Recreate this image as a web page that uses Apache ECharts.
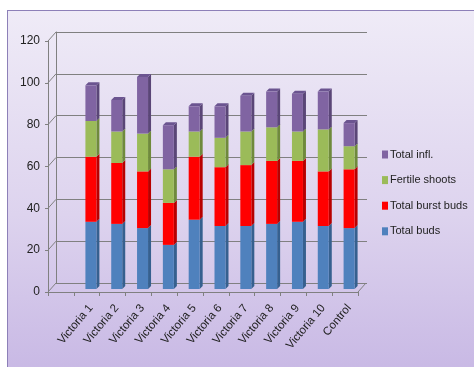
<!DOCTYPE html>
<html lang="en">
<head>
    <meta charset="UTF-8">
    <title>Bud and shoot counts by treatment</title>
    <script src="https://cdn.jsdelivr.net/npm/echarts@6.0.0/dist/echarts.min.js"></script>
    <style>
        body {
            margin: 0;
            background: #ffffff;
        }
        .chart-frame {
            position: absolute;
            left: 7px;
            top: 10px;
            width: 480px;
            height: 370px;
            border-left: 1px solid #8d80b8;
            border-top: 1px solid #8d80b8;
            background: linear-gradient(180deg, #efebf7 0%, #ddd3ee 55%, #c7b7e4 100%);
        }
        #chart {
            position: absolute;
            left: 0;
            top: 0;
            width: 474px;
            height: 367px;
        }
    </style>
</head>
<body>
    <div class="chart-frame"></div>
    <div id="chart"></div>

    <script>
        // 数据
        const categories = ['Victoria 1', 'Victoria 2', 'Victoria 3', 'Victoria 4', 'Victoria 5',
            'Victoria 6', 'Victoria 7', 'Victoria 8', 'Victoria 9', 'Victoria 10', 'Control'];
        const totalBuds      = [32, 31, 29, 21, 33, 30, 30, 31, 32, 30, 29];
        const totalBurstBuds = [31, 29, 27, 20, 30, 28, 29, 30, 29, 26, 28];
        const fertileShoots  = [17, 15, 18, 16, 12, 14, 16, 16, 14, 20, 11];
        const totalInfl      = [17, 15, 27, 21, 12, 15, 17, 17, 18, 18, 11];
        const yTicks = [0, 20, 40, 60, 80, 100, 120];

        const seriesDefs = [
            { name: 'Total buds', data: totalBuds, color: '#4f81bd', side: '#36608f' },
            { name: 'Total burst buds', data: totalBurstBuds, color: '#ff0000', side: '#b80000' },
            { name: 'Fertile shoots', data: fertileShoots, color: '#9bbb59', side: '#6f8a3c' },
            { name: 'Total infl.', data: totalInfl, color: '#8064a2', side: '#5a4677', top: '#6b5490' }
        ];

        const FONT = '"Liberation Sans", Arial, sans-serif';
        const GRID_COLOR = '#808080';
        const DEPTH = 3;       // 柱子侧面深度
        const BAR_W = 11;

        const chart = echarts.init(document.getElementById('chart'));

        // 柱子侧面和顶面（伪3D）
        function renderSides(params, api) {
            const i = api.value(0);
            const cx = api.coord([i, 0])[0];
            const xl = cx - BAR_W / 2;
            const xr = cx + BAR_W / 2;
            const children = [];
            let base = 0;
            seriesDefs.forEach((s, k) => {
                const v = api.value(k + 1);
                const y0 = api.coord([i, base])[1];
                const y1 = api.coord([i, base + v])[1];
                children.push({
                    type: 'polygon',
                    shape: { points: [[xr, y1], [xr + DEPTH, y1 - DEPTH], [xr + DEPTH, y0 - DEPTH], [xr, y0]] },
                    style: { fill: s.side }
                });
                if (k === seriesDefs.length - 1) {
                    children.push({
                        type: 'polygon',
                        shape: { points: [[xl, y1], [xl + DEPTH, y1 - DEPTH], [xr + DEPTH, y1 - DEPTH], [xr, y1]] },
                        style: { fill: s.top }
                    });
                }
                base += v;
            });
            return { type: 'group', children: children };
        }

        // 墙角斜线
        function renderEdges(params, api) {
            const p = api.coord([api.value(0), api.value(1)]);
            return {
                type: 'line',
                shape: { x1: p[0], y1: p[1], x2: p[0] + 8, y2: p[1] - 9 },
                style: { stroke: GRID_COLOR, lineWidth: 1 }
            };
        }

        const edgeData = yTicks.map(v => [0, v]).concat([[12, 0]]);
        const sideData = categories.map((c, i) => [i].concat(seriesDefs.map(s => s.data[i])));

        const option = {
            animation: false,
            textStyle: { fontFamily: FONT },
            grid: [
                { left: 48, right: 116, top: 41, bottom: 75 },   // 前面
                { left: 56, right: 107, top: 32, bottom: 84 },   // 后墙
                { left: 78, right: 112, top: 37, bottom: 78 }    // 柱子
            ],
            xAxis: [
                {
                    gridIndex: 0, type: 'value', min: 0, max: 12, interval: 1,
                    axisLine: { lineStyle: { color: GRID_COLOR } },
                    axisTick: { length: 4, lineStyle: { color: GRID_COLOR } },
                    axisLabel: { show: false },
                    splitLine: { show: false }
                },
                { gridIndex: 1, type: 'value', min: 0, max: 12, show: false },
                {
                    gridIndex: 2, type: 'category', data: categories,
                    axisLine: { show: false },
                    axisTick: { show: false },
                    axisLabel: { rotate: 50, margin: 17, color: '#222', fontSize: 11.5, fontFamily: FONT, interval: 0 }
                }
            ],
            yAxis: [
                {
                    gridIndex: 0, type: 'value', min: 0, max: 120, interval: 20,
                    axisLine: { show: true, lineStyle: { color: GRID_COLOR } },
                    axisTick: { show: true, length: 3, lineStyle: { color: GRID_COLOR } },
                    axisLabel: { color: '#222', fontSize: 12, margin: 8, fontFamily: FONT },
                    splitLine: { show: false }
                },
                {
                    gridIndex: 1, type: 'value', min: 0, max: 120, interval: 20,
                    axisLine: { show: true, lineStyle: { color: GRID_COLOR } },
                    axisTick: { show: false },
                    axisLabel: { show: false },
                    splitLine: { lineStyle: { color: GRID_COLOR } }
                },
                { gridIndex: 2, type: 'value', min: 0, max: 120, show: false }
            ],
            legend: {
                orient: 'vertical',
                left: 382,
                top: 149,
                padding: 0,
                icon: 'rect',
                itemWidth: 6,
                itemHeight: 8,
                itemGap: 14.6,
                data: seriesDefs.map(s => s.name).reverse(),
                textStyle: { color: '#222', fontSize: 11, fontFamily: FONT, padding: [0, 0, 0, -3] }
            },
            series: [
                {
                    type: 'custom',
                    xAxisIndex: 0, yAxisIndex: 0,
                    silent: true,
                    data: edgeData,
                    renderItem: renderEdges
                }
            ].concat(seriesDefs.map(s => ({
                name: s.name,
                type: 'bar',
                stack: 'total',
                xAxisIndex: 2, yAxisIndex: 2,
                barWidth: BAR_W,
                data: s.data,
                itemStyle: { color: s.color }
            }))).concat([
                {
                    type: 'custom',
                    xAxisIndex: 2, yAxisIndex: 2,
                    silent: true,
                    data: sideData,
                    renderItem: renderSides
                }
            ])
        };

        chart.setOption(option);
    </script>
</body>
</html>
